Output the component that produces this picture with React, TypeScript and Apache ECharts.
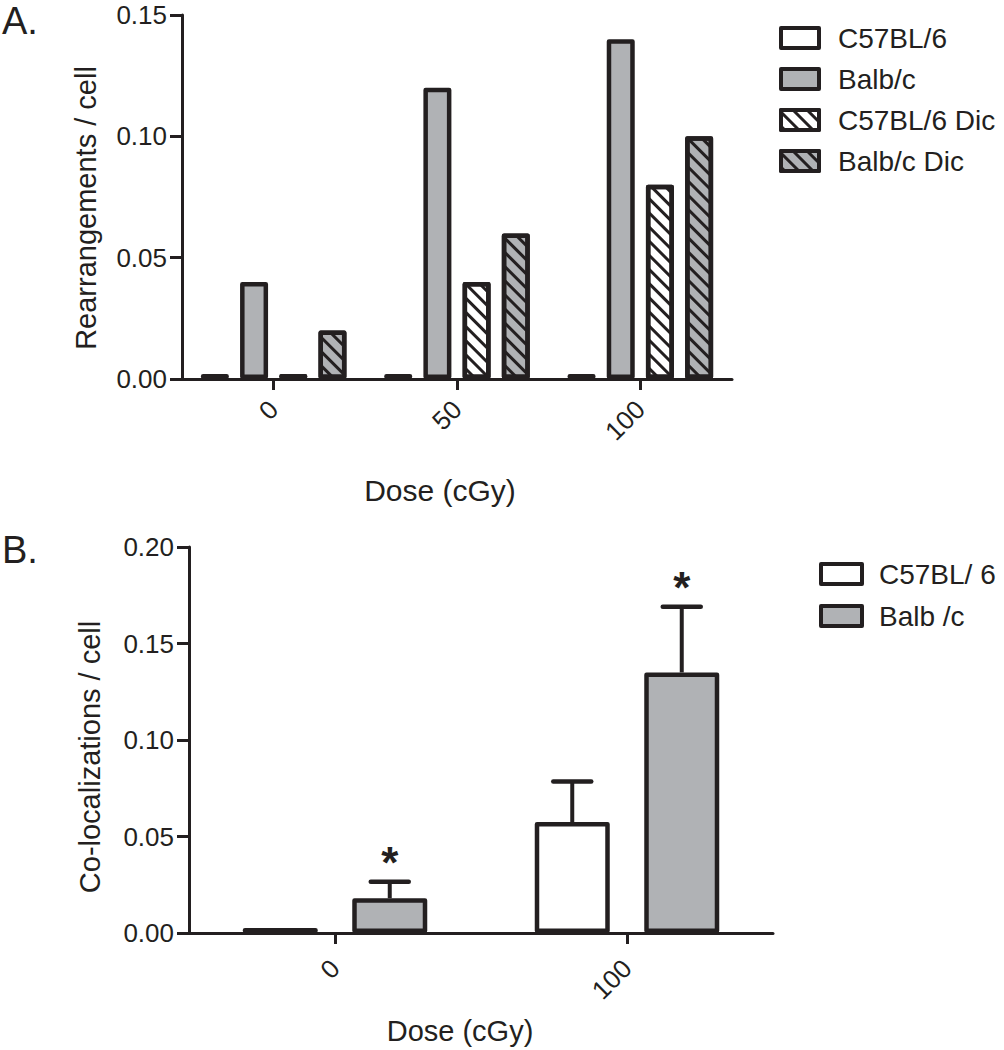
import React, { useEffect, useRef } from 'react';
import * as echarts from 'echarts';

// ---------- Data: panel A ----------
const doseA = ['0', '50', '100'];
const c57A = [0, 0, 0];
const balbA = [0.04, 0.12, 0.14];
const c57DicA = [0, 0.04, 0.08];
const balbDicA = [0.02, 0.06, 0.1];
const namesA = ['C57BL/6', 'Balb/c', 'C57BL/6 Dic', 'Balb/c Dic'];

// ---------- Data: panel B ----------
const doseB = ['0', '100'];
const c57B = [0, 0.0575];
const balbB = [0.018, 0.135];
const c57ErrB = [0, 0.021];
const balbErrB = [0.0085, 0.034];
const balbSigB = ['*', '*'];
const namesB = ['C57BL/ 6', 'Balb /c'];

// ---------- Styles ----------
const INK = '#231f20';
const GRAY = '#b0b2b5';
const FONT = "'Liberation Sans', Arial, sans-serif";

const BAR_W_A = 28;
const BAR_GAP_A = 40;
const BAR_W_B = 75;
const BAR_GAP_B = 46;

const hatch = {
  symbol: 'rect',
  symbolSize: 1,
  symbolKeepAspect: false,
  color: INK,
  dashArrayX: [1, 0],
  dashArrayY: [3, 6.5],
  rotation: Math.PI / 4,
};

function yAxisCommon(max: number, gridIndex: number) {
  return {
    type: 'value',
    gridIndex,
    min: 0,
    max,
    interval: 0.05,
    axisLine: { show: true, lineStyle: { color: INK, width: 3 } },
    axisTick: { show: true, length: 12, lineStyle: { color: INK, width: 3 } },
    axisLabel: {
      margin: 15,
      fontSize: 26,
      color: INK,
      fontFamily: FONT,
      formatter: (v: number) => v.toFixed(2),
    },
    splitLine: { show: false },
  };
}

function xAxisCommon(data: string[], gridIndex: number, margin: number) {
  return {
    type: 'category',
    gridIndex,
    data,
    axisLine: { show: true, lineStyle: { color: INK, width: 3 } },
    axisTick: { show: true, alignWithLabel: true, length: 11, lineStyle: { color: INK, width: 3 } },
    axisLabel: { rotate: 45, margin, fontSize: 26, color: INK, fontFamily: FONT, interval: 0 },
    splitLine: { show: false },
  };
}

function barA(name: string, data: number[], color: string, decal?: any) {
  return {
    type: 'bar',
    name,
    xAxisIndex: 0,
    yAxisIndex: 0,
    data,
    barWidth: BAR_W_A,
    barGap: BAR_GAP_A + '%',
    barMinHeight: 5,
    itemStyle: {
      color,
      borderColor: INK,
      borderWidth: 4.5,
      borderJoin: 'round',
      ...(decal ? { decal } : {}),
    },
  };
}

function barB(name: string, data: number[], color: string) {
  return {
    type: 'bar',
    name,
    xAxisIndex: 1,
    yAxisIndex: 1,
    data,
    barWidth: BAR_W_B,
    barGap: BAR_GAP_B + '%',
    barMinHeight: 5,
    itemStyle: { color, borderColor: INK, borderWidth: 4.5, borderJoin: 'round' },
  };
}

function errorSeries(values: number[], errs: number[], sig: string[] | null, side: number) {
  const pitch = BAR_W_B * (1 + BAR_GAP_B / 100);
  const offset = (side * pitch) / 2;
  return {
    type: 'custom',
    xAxisIndex: 1,
    yAxisIndex: 1,
    z: 5,
    data: values.map((v, i) => [i, v, errs[i]]),
    encode: { x: 0, y: 1 },
    renderItem: (params: any, api: any) => {
      const cat = api.value(0);
      const v = api.value(1);
      const e = api.value(2);
      const base = api.coord([cat, v]);
      const top = api.coord([cat, v + e]);
      const x = base[0] + offset;
      const children: any[] = [];
      if (e > 0) {
        children.push({
          type: 'line',
          shape: { x1: x, y1: base[1], x2: x, y2: top[1] },
          style: { stroke: INK, lineWidth: 4 },
        });
        children.push({
          type: 'line',
          shape: { x1: x - 19, y1: top[1], x2: x + 19, y2: top[1] },
          style: { stroke: INK, lineWidth: 4.5, lineCap: 'round' },
        });
      }
      if (sig && sig[params.dataIndex]) {
        children.push({
          type: 'text',
          x,
          y: top[1] - 19,
          style: {
            text: sig[params.dataIndex],
            fontSize: 44,
            fontWeight: 'bold',
            fontFamily: FONT,
            fill: INK,
            align: 'center',
            verticalAlign: 'middle',
          },
        });
      }
      return { type: 'group', children };
    },
  };
}

const legendText = (pad: number, size: number) => ({
  fontSize: size,
  color: INK,
  fontFamily: FONT,
  padding: [0, 0, 0, pad],
});

const option: any = {
  animation: false,
  backgroundColor: '#ffffff',
  textStyle: { fontFamily: FONT },
  grid: [
    { left: 182, top: 15, width: 550, height: 364 },
    { left: 189, top: 547, width: 584, height: 386 },
  ],
  xAxis: [xAxisCommon(doseA, 0, 26), xAxisCommon(doseB, 1, 31)],
  yAxis: [yAxisCommon(0.15, 0), yAxisCommon(0.2, 1)],
  legend: [
    {
      data: namesA,
      orient: 'vertical',
      left: 774,
      top: 19,
      icon: 'rect',
      itemWidth: 38,
      itemHeight: 20,
      itemGap: 13,
      itemStyle: { borderWidth: 4, borderColor: INK },
      textStyle: legendText(14, 28),
      selectedMode: false,
    },
    {
      data: namesB,
      orient: 'vertical',
      left: 814,
      top: 555,
      icon: 'rect',
      itemWidth: 41,
      itemHeight: 20,
      itemGap: 14,
      itemStyle: { borderWidth: 4, borderColor: INK },
      textStyle: legendText(12, 28),
      selectedMode: false,
    },
  ],
  graphic: [
    { type: 'text', x: 2, y: 21, style: { text: 'A.', fontSize: 38, fontFamily: FONT, fill: INK, verticalAlign: 'middle' } },
    { type: 'text', x: 2, y: 550, style: { text: 'B.', fontSize: 38, fontFamily: FONT, fill: INK, verticalAlign: 'middle' } },
    {
      type: 'text', x: 86, y: 208, rotation: Math.PI / 2,
      style: { text: 'Rearrangements / cell', fontSize: 29, fontFamily: FONT, fill: INK, align: 'center', verticalAlign: 'middle' },
    },
    {
      type: 'text', x: 440, y: 490,
      style: { text: 'Dose (cGy)', fontSize: 30, fontFamily: FONT, fill: INK, align: 'center', verticalAlign: 'middle' },
    },
    {
      type: 'text', x: 90, y: 757, rotation: Math.PI / 2,
      style: { text: 'Co-localizations / cell', fontSize: 29, fontFamily: FONT, fill: INK, align: 'center', verticalAlign: 'middle' },
    },
    {
      type: 'text', x: 460, y: 1031,
      style: { text: 'Dose (cGy)', fontSize: 29, fontFamily: FONT, fill: INK, align: 'center', verticalAlign: 'middle' },
    },
  ],
  series: [
    barA(namesA[0], c57A, '#ffffff'),
    barA(namesA[1], balbA, GRAY),
    barA(namesA[2], c57DicA, '#ffffff', hatch),
    barA(namesA[3], balbDicA, GRAY, hatch),
    barB(namesB[0], c57B, '#ffffff'),
    barB(namesB[1], balbB, GRAY),
    errorSeries(c57B, c57ErrB, null, -1),
    errorSeries(balbB, balbErrB, balbSigB, 1),
  ],
};

export default function App() {
  const ref = useRef<HTMLDivElement>(null);
  useEffect(() => {
    const chart = echarts.init(ref.current!, null, { renderer: 'svg' });
    chart.setOption(option);
    return () => chart.dispose();
  }, []);
  return (
    <div
      ref={ref}
      style={{ position: 'absolute', left: 0, top: 0, width: 1004, height: 1050, background: '#fff' }}
    />
  );
}
